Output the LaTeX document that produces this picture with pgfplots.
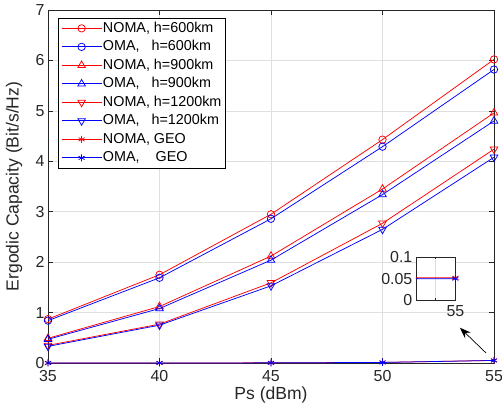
\documentclass[border=0pt]{standalone}
\usepackage{pgfplots}
\pgfplotsset{compat=1.18}
\usepackage{fontspec}
\setmainfont{Liberation Sans}
\usetikzlibrary{arrows.meta}
\definecolor{axgray}{rgb}{0.15,0.15,0.15}
\definecolor{gridgray}{rgb}{0.875,0.875,0.875}
\begin{document}
\begin{tikzpicture}
\path[use as bounding box] (-48bp,-53bp) rectangle (454bp,363bp);
\begin{axis}[
  at={(0bp,0bp)}, anchor=south west,
  scale only axis, width=446bp, height=353bp,
  xmin=35, xmax=55, ymin=0, ymax=7,
  xtick={35,40,45,50,55}, ytick={0,1,2,3,4,5,6,7},
  grid=major, major grid style={gridgray, line width=0.5bp},
  axis line style={axgray, line width=0.6bp},
  tick style={axgray, line width=0.6bp}, major tick length=5bp,
  tick label style={font=\fontsize{16}{16}\selectfont, text=axgray},
  xticklabel style={yshift=-4bp},
  /pgf/number format/assume math mode=true,
  xlabel={Ps (dBm)}, ylabel={Ergodic Capacity (Bit/s/Hz)},
  label style={font=\fontsize{17.6}{17.6}\selectfont, text=axgray},
  xlabel style={at={(axis description cs:0.5,-0.0907)}, anchor=center},
  ylabel style={at={(axis description cs:-0.0762,0.5)}, anchor=center},
  clip mode=individual,
  legend style={at={(axis description cs:0.0224,0.977)}, anchor=north west,
    font=\fontsize{14.4}{14.4}\selectfont, draw=black, line width=0.5bp, fill=white,
    inner xsep=3bp, inner ysep=2bp, row sep=2.5bp,
    nodes={inner sep=1bp, text height=11bp, text depth=3bp}},
  legend cell align=left,
  legend image code/.code={\draw[mark repeat=2,mark phase=2,#1] plot coordinates {(0bp,0bp) (20bp,0bp) (40bp,0bp)};},
  every axis plot/.append style={line width=0.75bp},
]
\addplot[red, mark=o, mark size=3.7bp] coordinates {(35,0.87)(40,1.75)(45,2.95)(50,4.43)(55,6.02)};
\addlegendentry{NOMA, h=600km}
\addplot[blue, mark=o, mark size=3.7bp] coordinates {(35,0.84)(40,1.69)(45,2.86)(50,4.29)(55,5.82)};
\addlegendentry{OMA,\ \ \ h=600km}
\addplot[red, mark=triangle, mark size=4.4bp] coordinates {(35,0.49)(40,1.12)(45,2.12)(50,3.45)(55,4.96)};
\addlegendentry{NOMA, h=900km}
\addplot[blue, mark=triangle, mark size=4.4bp] coordinates {(35,0.47)(40,1.08)(45,2.04)(50,3.34)(55,4.80)};
\addlegendentry{OMA,\ \ \ h=900km}
\addplot[red, mark=triangle, mark size=4.4bp, mark options={rotate=180}] coordinates {(35,0.35)(40,0.77)(45,1.59)(50,2.77)(55,4.24)};
\addlegendentry{NOMA, h=1200km}
\addplot[blue, mark=triangle, mark size=4.4bp, mark options={rotate=180}] coordinates {(35,0.33)(40,0.75)(45,1.53)(50,2.65)(55,4.08)};
\addlegendentry{OMA,\ \ \ h=1200km}
\addplot[red, mark=asterisk, mark size=3.5bp] coordinates {(35,0.0005)(40,0.001)(45,0.003)(50,0.012)(55,0.052)};
\addlegendentry{NOMA, GEO}
\addplot[blue, mark=asterisk, mark size=3.5bp] coordinates {(35,0.0004)(40,0.0009)(45,0.0028)(50,0.011)(55,0.050)};
\addlegendentry{OMA,\ \ \ \ GEO}
\draw[-{Stealth[length=11bp,width=8bp]}, line width=0.7bp, black] (axis cs:54.64,0.2) -- (axis cs:53.47,0.70);
\end{axis}
\begin{axis}[
  at={(367.7bp,63bp)}, anchor=south west,
  scale only axis, width=39.6bp, y=427bp,
  xmin=54.98, xmax=55, ymin=0, ymax=0.1,
  xtick={54.99,55}, xticklabels={,55},
  ytick={0,0.05,0.1}, yticklabels={0,0.05,0.1},
  grid=major, major grid style={gridgray, line width=0.5bp},
  axis line style={axgray, line width=0.6bp},
  tick style={axgray, line width=0.6bp}, major tick length=2bp,
  tick label style={font=\fontsize{16}{16}\selectfont, text=axgray},
  xticklabel style={yshift=-2bp},
  axis background/.style={fill=white},
  clip mode=individual,
  every axis plot/.append style={line width=0.75bp},
]
\addplot[red, mark=asterisk, mark size=3.5bp] coordinates {(50,0.0512)(55,0.052)};
\addplot[blue, mark=asterisk, mark size=3.5bp] coordinates {(50,0.0492)(55,0.050)};
\end{axis}
\end{tikzpicture}
\end{document}
